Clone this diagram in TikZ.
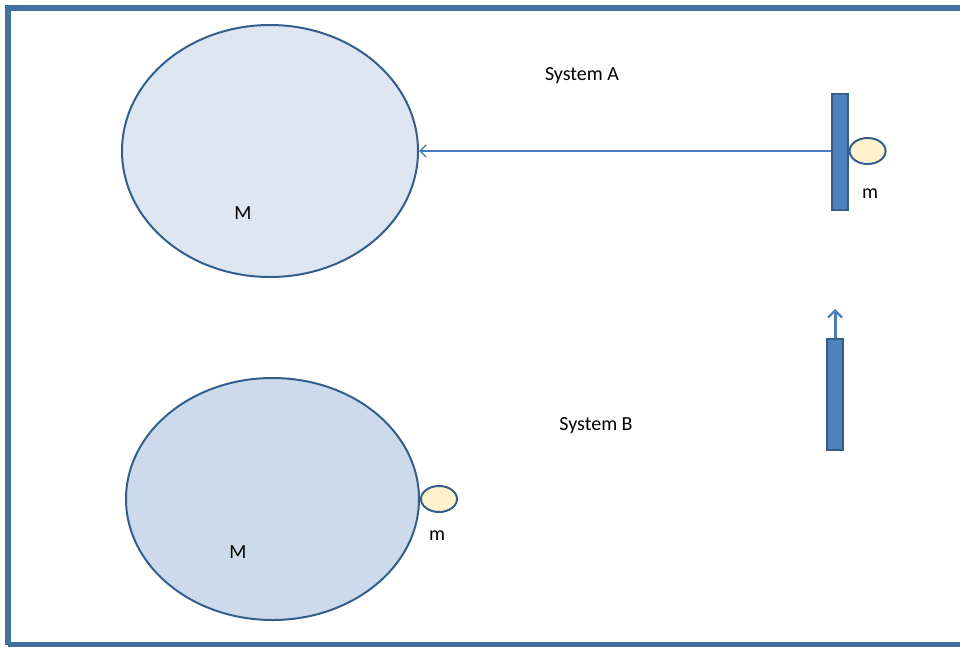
\documentclass[tikz,border=0pt]{standalone}
\usepackage{fontspec}
\setmainfont{Carlito}
\usetikzlibrary{shapes.geometric,arrows.meta}
\definecolor{framecol}{RGB}{65,113,156}
\definecolor{edgecol}{RGB}{52,94,140}
\definecolor{bigA}{RGB}{222,230,242}
\definecolor{bigB}{RGB}{205,218,236}
\definecolor{barfill}{RGB}{79,129,189}
\definecolor{baredge}{RGB}{56,93,138}
\definecolor{smallfill}{RGB}{255,242,204}
\definecolor{arrowcol}{RGB}{74,126,187}
\tikzset{
	planet/.style={ellipse,draw=edgecol,line width=2pt,inner sep=0pt},
	mass/.style={ellipse,draw=edgecol,fill=smallfill,line width=2pt,inner sep=0pt,minimum width=36pt,minimum height=26pt},
	bar/.style={rectangle,draw=baredge,fill=barfill,line width=1.2pt,inner sep=0pt,minimum width=16pt},
	lbl/.style={font=\fontsize{20}{24}\selectfont,inner sep=0pt}
}
\begin{document}
\begin{tikzpicture}[x=1pt,y=-1pt]
	\useasboundingbox (0,0) rectangle (960,646);
	\begin{scope}
		\clip (0,0) rectangle (960,646);
		\draw [framecol,line width=6pt](8,644.5)--(8,8)--(966,8);
		\draw [framecol,line width=6pt](8,644.5)--(966,644.5);
	\end{scope}
	
	\node [planet,fill=bigA,minimum width=296pt,minimum height=252pt] (MA) at (270,151) {};
	\node [planet,fill=bigB,minimum width=293pt,minimum height=242pt] (MB) at (272.5,499) {};
	\node [lbl] (labMA) at (243,213) {M};
	\node [lbl] (labMB) at (238,552) {M};
	
	\node [lbl] (sysA) at (582,76) {System A};
	\node [lbl] (sysB) at (596,426) {System B};
	
	\node [bar,minimum height=116pt] (barA) at (840,152) {};
	\node [mass,anchor=west] (mA) at (barA.east|-0,151) {};
	\node [lbl] (labmA) at (870,194) {m};
	\draw [arrowcol,line width=1.5pt,-{Straight Barb[length=6pt,width=12pt,line width=1.5pt]}] (barA.west|-0,151)--(MA.east);
	
	\node [bar,minimum height=111pt] (barB) at (835,394.5) {};
	\coordinate (tipB) at (835,309);
	\draw [arrowcol,line width=3pt,-{Straight Barb[length=7pt,width=14pt,line width=2.2pt]}] (barB.north)--(tipB);
	
	\node [mass,anchor=west] (mB) at (MB.east) {};
	\node [lbl] (labmB) at (437,536) {m};
\end{tikzpicture}
\end{document}
